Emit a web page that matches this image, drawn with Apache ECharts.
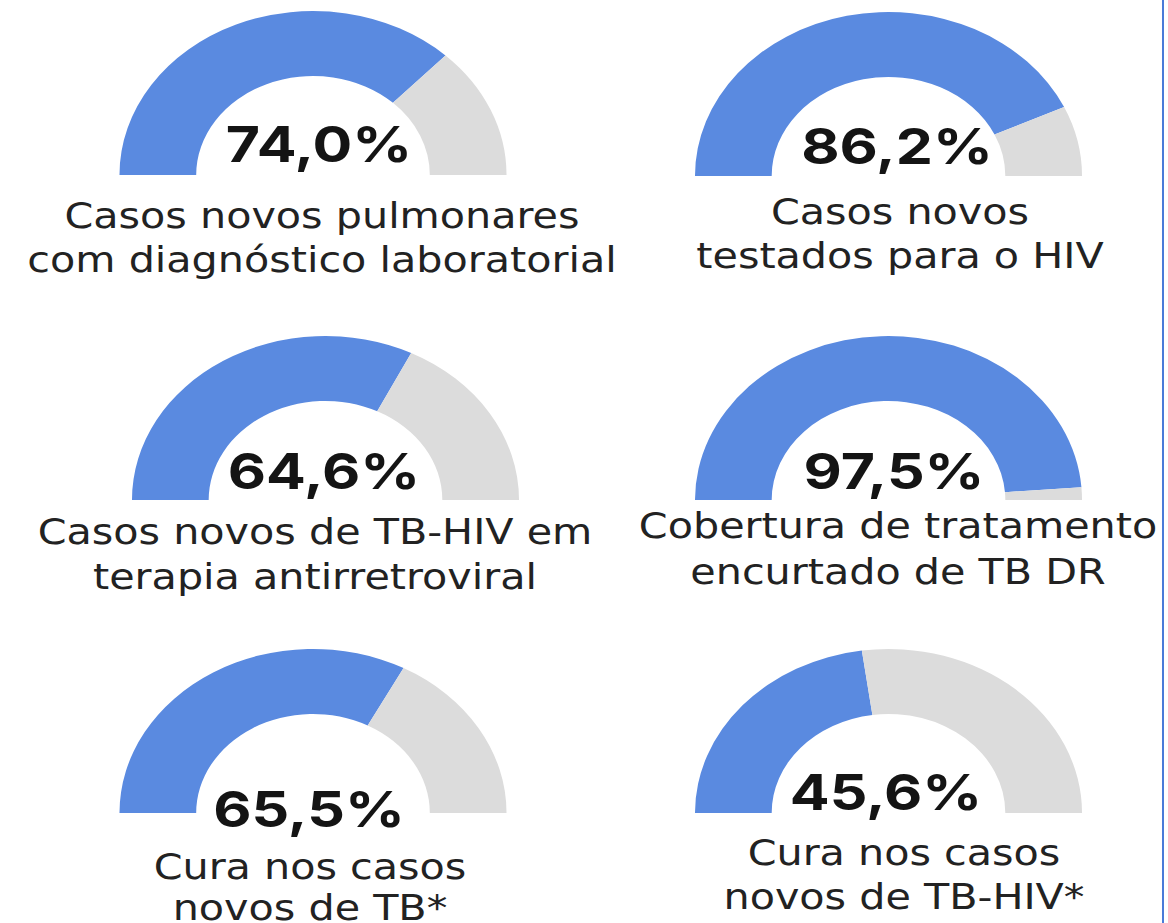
<!DOCTYPE html>
<html>
<head>
<meta charset="utf-8">
<title>Indicadores TB</title>
<script src="https://cdn.jsdelivr.net/npm/echarts@6/dist/echarts.min.js"></script>
<style>
  html, body { margin: 0; padding: 0; background: #fff; overflow: hidden; }
  /* the source picture is stretched horizontally, so the chart is too */
  #main { width: 990px; height: 923px; transform: scaleX(1.18); transform-origin: 0 0; }
</style>
</head>
<body>
<div id="main"></div>
<script>
var values = [74.0, 86.2, 64.6, 97.5, 65.5, 45.6];
var captions = [
  'Casos novos pulmonares\ncom diagnóstico laboratorial',
  'Casos novos\ntestados para o HIV',
  'Casos novos de TB-HIV em\nterapia antirretroviral',
  'Cobertura de tratamento\nencurtado de TB DR',
  'Cura nos casos\nnovos de TB*',
  'Cura nos casos\nnovos de TB-HIV*'
];

// layout in screen pixels: gauge centre / baseline, value label, caption baselines
var layout = [
  { cx: 313,   base: 175, vx: 319, vb: 160, tx: 322, t1: 226, t2: 270 },
  { cx: 888.5, base: 176, vx: 897, vb: 162, tx: 900, t1: 222, t2: 266 },
  { cx: 325.5, base: 500, vx: 324, vb: 487, tx: 315, t1: 542, t2: 587 },
  { cx: 888.5, base: 500, vx: 894, vb: 487, tx: 898, t1: 536, t2: 582 },
  { cx: 313,   base: 813, vx: 309, vb: 825, tx: 310, t1: 877, t2: 918 },
  { cx: 888.5, base: 813, vx: 886, vb: 808, tx: 904, t1: 863, t2: 907 }
];

var SX = 1.18;
var BLUE = '#5a8ae0';
var GRAY = '#dcdcdc';
var VALUE_SIZE = 50;
var CAPTION_SIZE = 35;

function fmt(v) {
  return v.toFixed(1).replace('.', ',') + '%';
}

var chart = echarts.init(document.getElementById('main'), null, { renderer: 'svg' });

var series = [];
var graphic = [];

values.forEach(function (v, i) {
  var p = layout[i];
  series.push({
    type: 'pie',
    center: [p.cx / SX, p.base],
    radius: [99, 164],
    startAngle: 180,
    endAngle: 0,
    silent: true,
    animation: false,
    label: { show: false },
    labelLine: { show: false },
    emphasis: { disabled: true },
    data: [
      { value: v, itemStyle: { color: BLUE } },
      { value: +(100 - v).toFixed(1), itemStyle: { color: GRAY } }
    ]
  });
  graphic.push({
    type: 'text',
    z: 10,
    x: p.vx / SX,
    y: p.vb - 0.33 * VALUE_SIZE,
    style: {
      text: fmt(v),
      fontFamily: 'Inter',
      fontWeight: 'bold',
      fontSize: VALUE_SIZE,
      fill: '#141414',
      align: 'center',
      verticalAlign: 'middle'
    }
  });
  graphic.push({
    type: 'text',
    z: 10,
    x: p.tx / SX,
    y: (p.t1 + p.t2) / 2 - 0.3 * CAPTION_SIZE,
    style: {
      text: captions[i],
      fontFamily: 'DejaVu Sans',
      fontSize: CAPTION_SIZE,
      lineHeight: p.t2 - p.t1,
      fill: '#222222',
      align: 'center',
      verticalAlign: 'middle'
    }
  });
});

// blue frame line on the right edge
graphic.push({
  type: 'line',
  z: 10,
  shape: { x1: 1163 / SX, y1: 0, x2: 1163 / SX, y2: 923 },
  style: { stroke: '#4a7bd8', lineWidth: 2 / SX }
});

chart.setOption({
  animation: false,
  series: series,
  graphic: graphic
});
</script>
</body>
</html>
